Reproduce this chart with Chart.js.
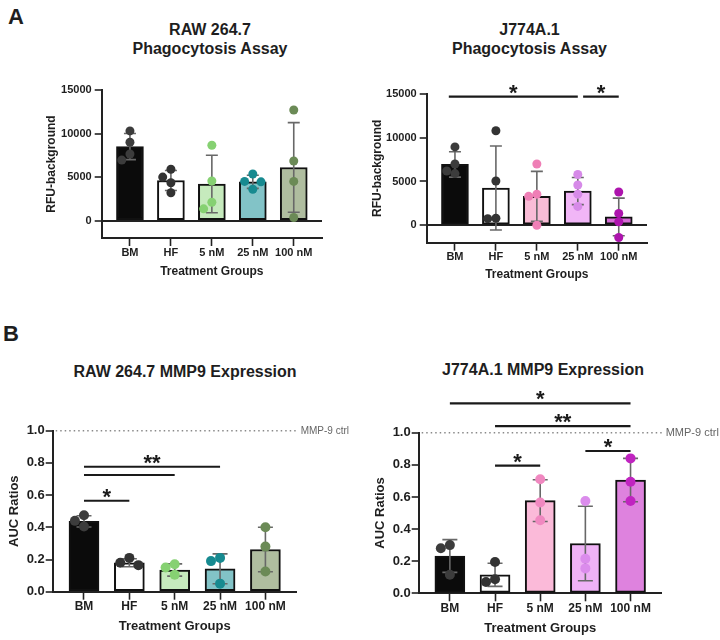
<!DOCTYPE html>
<html lang="en">
<head>
<meta charset="UTF-8">
<title>Phagocytosis and MMP9 Expression</title>
<script src="https://cdn.jsdelivr.net/npm/chart.js"></script>
<style>
  body { margin: 0; background: #fff; }
  #fig { position: relative; width: 720px; height: 640px; font-family: "Liberation Sans", Arial, sans-serif; color: #1e1e1e; }
  #fig canvas { position: absolute; }
  .title { position: absolute; font-weight: bold; font-size: 16px; line-height: 19px; text-align: center; white-space: nowrap; transform: translateX(-50%); }
  .letter { position: absolute; font-weight: bold; font-size: 22px; }
</style>
</head>
<body>
<div id="fig">
  <div class="letter" style="left:8px;top:4px">A</div>
  <div class="letter" style="left:3px;top:321px">B</div>
  <div class="title" style="left:210px;top:19.5px">RAW 264.7<br>Phagocytosis Assay</div>
  <div class="title" style="left:529.5px;top:19.5px">J774A.1<br>Phagocytosis Assay</div>
  <div class="title" style="left:185px;top:362px">RAW 264.7 MMP9 Expression</div>
  <div class="title" style="left:543px;top:359.5px">J774A.1 MMP9 Expression</div>
  <canvas id="rawPhago" width="360" height="300" style="left:0;top:0"></canvas>
  <canvas id="jPhago" width="360" height="300" style="left:360px;top:0"></canvas>
  <canvas id="rawMmp" width="360" height="340" style="left:0;top:300px"></canvas>
  <canvas id="jMmp" width="360" height="340" style="left:360px;top:300px"></canvas>
</div>

<script>
  // ---- data ----
  const groups = ['BM', 'HF', '5 nM', '25 nM', '100 nM'];

  // A: RAW 264.7 phagocytosis, RFU-background
  const rawPhagoMean = [8500, 4600, 4200, 4450, 6100];
  const rawPhagoSD = [1500, 1150, 3300, 750, 5150];
  const rawPhagoPoints = [
    [10300, 9000, 7650, 6950],
    [5900, 5000, 4350, 3200],
    [8650, 4550, 2100, 1350],
    [5350, 4500, 4450, 3600],
    [12700, 6850, 4500, 350]
  ];

  // A: J774A.1 phagocytosis, RFU-background
  const jPhagoMean = [6950, 4250, 3300, 3900, 950];
  const jPhagoSD = [1450, 4800, 2850, 1550, 2150];
  const jPhagoPoints = [
    [8950, 7000, 6200, 5900],
    [10800, 5050, 800, 750],
    [7000, 3550, 3300, 0],
    [5800, 4600, 3550, 2150],
    [3800, 1350, 400, -1400]
  ];

  // B: RAW 264.7 MMP9, AUC ratios
  const rawMmpMean = [0.437, 0.18, 0.135, 0.142, 0.262];
  const rawMmpSD = [0.035, 0.025, 0.038, 0.093, 0.138];
  const rawMmpPoints = [
    [0.475, 0.44, 0.405],
    [0.21, 0.18, 0.165],
    [0.17, 0.15, 0.105],
    [0.21, 0.19, 0.05],
    [0.40, 0.28, 0.125]
  ];

  // B: J774A.1 MMP9, AUC ratios
  const jMmpMean = [0.232, 0.115, 0.577, 0.31, 0.705];
  const jMmpSD = [0.102, 0.072, 0.13, 0.232, 0.135];
  const jMmpPoints = [
    [0.30, 0.28, 0.115],
    [0.195, 0.07, 0.088],
    [0.71, 0.565, 0.455],
    [0.575, 0.215, 0.155],
    [0.84, 0.695, 0.575]
  ];

  // significance bars: from/to group index, height in data units
  const jPhagoSig = [
    { from: -0.15, to: 3, y: 14700, text: '*' },
    { from: 3.13, to: 4, y: 14700, text: '*' }
  ];
  const rawMmpSig = [
    { from: 0, to: 1, y: 0.565, text: '*' },
    { from: 0, to: 2, y: 0.725, text: '' },
    { from: 0, to: 3, y: 0.776, text: '**' }
  ];
  const jMmpSig = [
    { from: 0, to: 4, y: 1.182, text: '*' },
    { from: 1, to: 4, y: 1.041, text: '**' },
    { from: 1, to: 2, y: 0.795, text: '*' },
    { from: 3, to: 4, y: 0.886, text: '*' }
  ];

  // ---- colours ----
  const greenBars = ['#0b0b0b', '#ffffff', '#c6eabd', '#82c3c7', '#afbd9f'];
  const greenDots = ['#3c3c3c', '#333333', '#86d172', '#178a90', '#6b8a56'];
  const pinkBarsA = ['#0b0b0b', '#ffffff', '#f9bcd6', '#f1b6f7', '#d66bd6'];
  const pinkDotsA = ['#3c3c3c', '#333333', '#ef7fb6', '#d68ae8', '#ad14ad'];
  const pinkBarsB = ['#0b0b0b', '#ffffff', '#fbbad9', '#efb2f6', '#de82de'];
  const pinkDotsB = ['#3c3c3c', '#333333', '#f088c0', '#db8cec', '#c024c0'];

  Chart.defaults.font.family = '"Liberation Sans", Arial, sans-serif';
  Chart.defaults.color = '#1e1e1e';

  // spread points sideways when they would overlap
  function spread(values, tol) {
    const order = values.map((v, k) => k).sort((a, b) => values[b] - values[a]);
    const offs = values.map(() => 0);
    const slots = [0, -0.2, 0.2, -0.4, 0.4];
    const placed = [];
    order.forEach(k => {
      const near = placed.filter(p => Math.abs(values[p] - values[k]) < tol).map(p => offs[p]);
      offs[k] = slots.find(s => !near.includes(s));
      placed.push(k);
    });
    return offs;
  }

  function extrasPlugin(p) {
    return {
      id: 'extras',
      beforeDatasetDraw(chart, args) {
        if (args.index !== 0) return; // error bars go between bars and dots
        const xs = chart.scales.x, ys = chart.scales.y, ctx = chart.ctx;
        ctx.save();
        ctx.strokeStyle = '#686868';
        ctx.lineWidth = 1.6;
        p.mean.forEach((m, i) => {
          const px = xs.getPixelForValue(i);
          const hi = ys.getPixelForValue(m + p.sd[i]);
          const lo = ys.getPixelForValue(m - p.sd[i]);
          ctx.beginPath();
          ctx.moveTo(px, hi); ctx.lineTo(px, lo);
          ctx.moveTo(px - p.cap, hi); ctx.lineTo(px + p.cap, hi);
          ctx.moveTo(px - p.cap, lo); ctx.lineTo(px + p.cap, lo);
          ctx.stroke();
        });
        ctx.restore();
      },
      afterDraw(chart) {
        const xs = chart.scales.x, ys = chart.scales.y, ctx = chart.ctx;
        const area = chart.chartArea;
        ctx.save();
        if (p.ctrl) {
          const py = ys.getPixelForValue(1);
          ctx.strokeStyle = '#8a8a8a';
          ctx.lineWidth = 1.5;
          ctx.setLineDash([1.5, 3]);
          ctx.beginPath();
          ctx.moveTo(area.left + 3, py); ctx.lineTo(area.right + 1, py);
          ctx.stroke();
          ctx.setLineDash([]);
          ctx.fillStyle = '#666';
          ctx.font = p.ctrlFont + 'px "Liberation Sans", Arial, sans-serif';
          ctx.textAlign = 'left';
          ctx.textBaseline = 'middle';
          ctx.fillText('MMP-9 ctrl', area.right + 4, py + 0.5);
        }
        (p.sig || []).forEach(b => {
          const x1 = xs.getPixelForValue(b.from), x2 = xs.getPixelForValue(b.to);
          const py = ys.getPixelForValue(b.y);
          ctx.strokeStyle = '#1a1a1a';
          ctx.lineWidth = 2.2;
          ctx.beginPath();
          ctx.moveTo(x1, py); ctx.lineTo(x2, py);
          ctx.stroke();
          if (b.text) {
            ctx.fillStyle = '#1a1a1a';
            ctx.font = 'bold 22px "Liberation Sans", Arial, sans-serif';
            ctx.textAlign = 'center';
            ctx.textBaseline = 'alphabetic';
            ctx.fillText(b.text, (x1 + x2) / 2, py + 3);
          }
        });
        ctx.restore();
      }
    };
  }

  function makePanel(id, p) {
    const tol = (p.yMax - p.yMin) * 0.055;
    const dots = [], dotColors = [];
    p.points.forEach((vals, i) => {
      const offs = spread(vals, tol);
      vals.forEach((v, k) => {
        dots.push({ x: i + offs[k], y: v });
        dotColors.push(p.dotColors[i]);
      });
    });

    new Chart(document.getElementById(id), {
      type: 'bar',
      data: {
        datasets: [
          {
            type: 'scatter',
            data: dots,
            pointRadius: p.dotR,
            pointBackgroundColor: dotColors,
            pointBorderWidth: 0,
            order: 0
          },
          {
            type: 'bar',
            data: p.mean.map((m, i) => ({ x: i, y: m })),
            backgroundColor: p.barColors,
            borderColor: '#111',
            borderWidth: 2,
            borderSkipped: false,
            barThickness: p.barW,
            order: 1
          }
        ]
      },
      options: {
        responsive: false,
        animation: false,
        layout: { padding: { top: p.top, right: p.right, left: 0, bottom: 0 } },
        plugins: { legend: { display: false }, tooltip: { enabled: false } },
        scales: {
          x: {
            type: 'linear',
            min: -0.69,
            max: 4.69,
            offset: false,
            afterFit: s => { s.height = p.xh; },
            afterBuildTicks: s => { s.ticks = groups.map((g, i) => ({ value: i })); },
            ticks: {
              callback: v => groups[v],
              autoSkip: false,
              maxRotation: 0,
              padding: 0,
              color: '#1e1e1e',
              font: { size: p.xTickSize, weight: 'bold' }
            },
            grid: { offset: false, drawOnChartArea: false, tickLength: 8, tickColor: '#222', tickWidth: 1.6 },
            border: { display: true, color: '#222', width: 2 },
            title: {
              display: true,
              text: 'Treatment Groups',
              color: '#1e1e1e',
              font: { size: p.titleSize, weight: 'bold' },
              padding: { top: 0, bottom: p.xTitlePad }
            }
          },
          y: {
            min: p.yMin,
            max: p.yMax,
            afterFit: s => { s.width = p.yw; },
            afterBuildTicks: s => { s.ticks = p.yTicks.map(v => ({ value: v })); },
            ticks: {
              callback: p.yFmt,
              padding: p.yTickPad,
              color: '#1e1e1e',
              font: { size: p.yTickSize, weight: 'bold' }
            },
            grid: {
              drawOnChartArea: p.zeroLine,
              color: c => (c.tick && c.tick.value === 0 ? '#222' : 'rgba(0,0,0,0)'),
              lineWidth: 2,
              tickLength: 7,
              tickColor: '#222',
              tickWidth: 1.6
            },
            border: { display: true, color: '#222', width: 2 },
            title: {
              display: true,
              text: p.yTitle,
              color: '#1e1e1e',
              font: { size: p.titleSize, weight: 'bold' },
              padding: { top: p.yTitlePad, bottom: 0 }
            }
          }
        }
      },
      plugins: [extrasPlugin(p)]
    });
  }

  const rfuTicks = [0, 5000, 10000, 15000];
  const aucTicks = [0, 0.2, 0.4, 0.6, 0.8, 1.0];

  makePanel('rawPhago', {
    mean: rawPhagoMean, sd: rawPhagoSD, points: rawPhagoPoints,
    barColors: greenBars, dotColors: greenDots,
    yMin: -2000, yMax: 15000, yTicks: rfuTicks, yFmt: v => String(v), zeroLine: true,
    yTitle: 'RFU-background',
    top: 90, right: 38, yw: 101.7, xh: 62, yTitlePad: 44.5, xTitlePad: 21.1,
    xTickSize: 11, yTickSize: 11, yTickPad: 3, titleSize: 12,
    barW: 27, dotR: 4.5, cap: 6
  });

  makePanel('jPhago', {
    mean: jPhagoMean, sd: jPhagoSD, points: jPhagoPoints,
    barColors: pinkBarsA, dotColors: pinkDotsA, sig: jPhagoSig,
    yMin: -2000, yMax: 15000, yTicks: rfuTicks, yFmt: v => String(v), zeroLine: true,
    yTitle: 'RFU-background',
    top: 94, right: 73, yw: 66.7, xh: 57.3, yTitlePad: 10, xTitlePad: 17.8,
    xTickSize: 11, yTickSize: 11, yTickPad: 3, titleSize: 12,
    barW: 27, dotR: 4.5, cap: 6
  });

  makePanel('rawMmp', {
    mean: rawMmpMean, sd: rawMmpSD, points: rawMmpPoints,
    barColors: greenBars, dotColors: greenDots, sig: rawMmpSig,
    yMin: 0, yMax: 1, yTicks: aucTicks, yFmt: v => v.toFixed(1), zeroLine: false,
    yTitle: 'AUC Ratios', ctrl: true, ctrlFont: 10,
    top: 130.7, right: 63.3, yw: 52.7, xh: 48.3, yTitlePad: 6.2, xTitlePad: 5.5,
    xTickSize: 12, yTickSize: 13, yTickPad: 1, titleSize: 13,
    barW: 30, dotR: 5, cap: 7.5
  });

  makePanel('jMmp', {
    mean: jMmpMean, sd: jMmpSD, points: jMmpPoints,
    barColors: pinkBarsB, dotColors: pinkDotsB, sig: jMmpSig,
    yMin: 0, yMax: 1, yTicks: aucTicks, yFmt: v => v.toFixed(1), zeroLine: false,
    yTitle: 'AUC Ratios', ctrl: true, ctrlFont: 11,
    top: 132.7, right: 58.3, yw: 58.7, xh: 46.7, yTitlePad: 12.9, xTitlePad: 3.9,
    xTickSize: 12, yTickSize: 13, yTickPad: 1, titleSize: 13,
    barW: 30, dotR: 5, cap: 7.5
  });
</script>
</body>
</html>
